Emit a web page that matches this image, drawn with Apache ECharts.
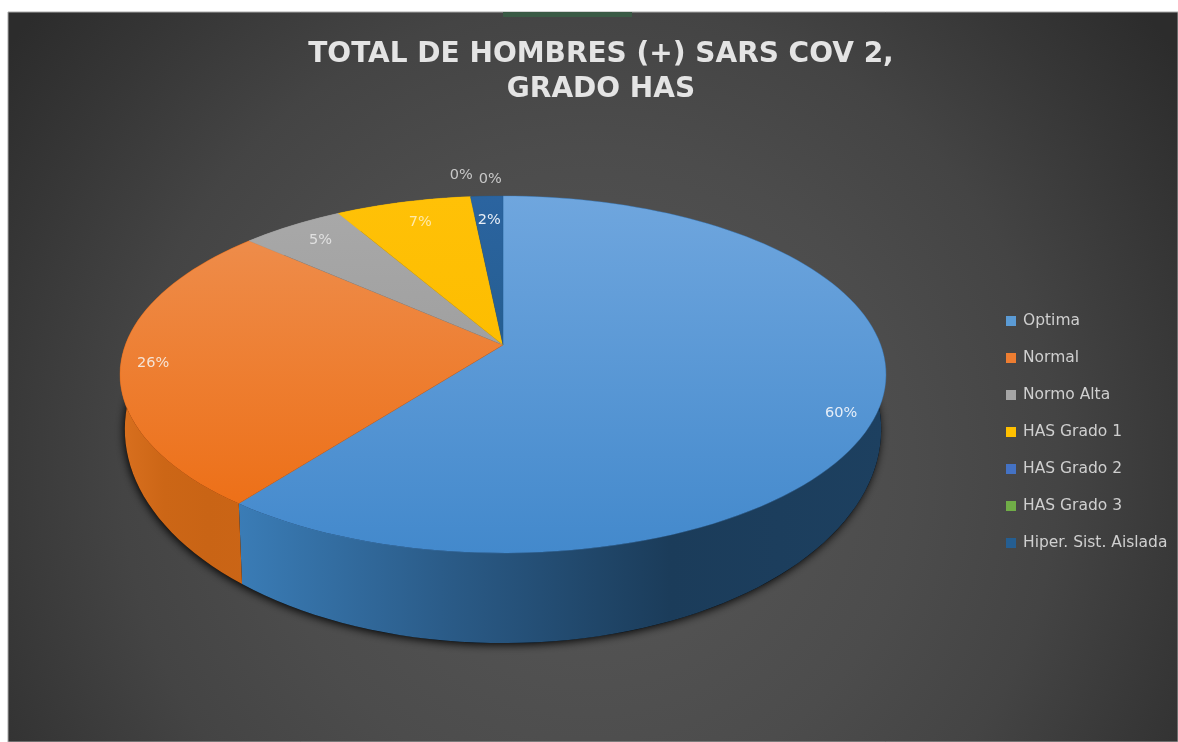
<!DOCTYPE html>
<html>
<head>
<meta charset="utf-8">
<title>Total de hombres, grado HAS</title>
<script src="https://cdn.jsdelivr.net/npm/echarts@6/dist/echarts.min.js"></script>
<style>
  html, body { margin: 0; padding: 0; background: #fff; }
  #main { width: 1178px; height: 742px; }
</style>
</head>
<body>
<div id="main"></div>
<script>
var categories = ["Optima", "Normal", "Normo Alta", "HAS Grado 1", "HAS Grado 2", "HAS Grado 3", "Hiper. Sist. Aislada"];
var percents = [60.4, 26.2, 5.1, 6.7, 0, 0, 1.6];
var titleText = "TOTAL DE HOMBRES (+) SARS COV 2,\nGRADO HAS";

var legendColors = ["#5b9bd5", "#ed7d31", "#a5a5a5", "#ffc000", "#4472c4", "#70ad47", "#255e91"];
var topColors = [
  ["#6fa6de", "#4389cc"],
  ["#ee8c4a", "#ed7018"],
  ["#a8a8a8", "#a0a0a0"],
  ["#ffc107", "#fdbd00"],
  ["#4472c4", "#4472c4"],
  ["#70ad47", "#70ad47"],
  ["#2b64a0", "#255e91"]
];
var wallColors = [
  ["#3a7cb6", "#2a5a86", "#1b3c5a", "#1d4060"],
  ["#d9701f", "#cc6616", "#c96415", "#cb6516"]
];
var labelColors = ["#e6eef8", "#f5e3d5", "#e0e0e0", "#ffe9a8", "#c8c8c8", "#c8c8c8", "#e8eef6"];

// label place: radius along the slice's mid angle, then a small pixel nudge
var labelPlaces = [
  [0.9, 0, 16],
  [0.92, 1, 3],
  [0.85, 0, -1],
  [0.85, 4, 1],
  [1.15, -5, -3],
  [1.15, 24, 1],
  [0.82, 0, 0]
];

// tilted disc: a circle seen in perspective, lower rim is the same disc further down
var tilt = 0.165;
var upper = { cx: 503, cy: 345, a: 377.7, b: 173.6 };
var lower = { cx: 503, cy: 394, a: 373, b: 208 };

function project(plane, deg, r) {
  var rad = deg * Math.PI / 180;
  var u = Math.sin(rad) * r;
  var v = -Math.cos(rad) * r;
  var w = 1 - tilt * v;
  return [plane.cx + plane.a * u / w, plane.cy + plane.b * v / w];
}

function arc(plane, from, to) {
  var pts = [];
  var steps = Math.max(2, Math.ceil((to - from) / 2));
  for (var i = 0; i <= steps; i++) {
    pts.push(project(plane, from + (to - from) * i / steps, 1));
  }
  return pts;
}

var total = percents.reduce(function (s, p) { return s + p; }, 0);

function startAngle(idx) {
  var sum = 0;
  for (var i = 0; i < idx; i++) sum += percents[i];
  return sum / total * 360;
}

function hGradient(colors) {
  var stops = colors.map(function (c, i) {
    return { offset: i / (colors.length - 1), color: c };
  });
  return new echarts.graphic.LinearGradient(0, 0, 1, 0, stops);
}

function renderSlice(params, api) {
  var idx = params.seriesIndex;
  var value = api.value(0);
  var from = startAngle(idx);
  var to = from + value / total * 360;
  var children = [];

  if (idx === 0) {
    children.push({
      type: "polygon",
      z2: 0,
      shape: { points: arc(lower, 0, 360) },
      style: { fill: "#000", shadowBlur: 9, shadowColor: "rgba(0,0,0,0.9)", shadowOffsetX: -1, shadowOffsetY: 2 }
    });
  }

  if (value > 0) {
    var topRim = arc(upper, from, to);
    var lowRim = arc(lower, from, to).reverse();
    var wall = wallColors[idx] || [legendColors[idx], legendColors[idx]];
    children.push({
      type: "polygon",
      z2: 1,
      shape: { points: topRim.concat(lowRim) },
      style: { fill: hGradient(wall) }
    });
    var apex = project(upper, 0, 0);
    var topFill = new echarts.graphic.LinearGradient(0, 0, 0, 1, [
      { offset: 0, color: topColors[idx][0] },
      { offset: 1, color: topColors[idx][1] }
    ]);
    children.push({
      type: "polygon",
      z2: 2,
      shape: { points: [apex].concat(topRim) },
      style: { fill: topFill, stroke: topColors[idx][1], lineWidth: 0.4 }
    });
  }

  var place = labelPlaces[idx];
  var at = project(upper, (from + to) / 2, place[0]);
  children.push({
    type: "text",
    z2: 3,
    style: {
      text: Math.round(value / total * 100) + "%",
      x: at[0] + place[1],
      y: at[1] + place[2],
      fill: labelColors[idx],
      font: "14.5px 'DejaVu Sans'",
      align: "center",
      verticalAlign: "middle"
    }
  });
  return { type: "group", children: children };
}

var seriesList = categories.map(function (name, i) {
  return {
    name: name,
    type: "custom",
    coordinateSystem: "none",
    silent: true,
    itemStyle: { color: legendColors[i] },
    renderItem: renderSlice,
    data: [[percents[i]]]
  };
});

var myChart = echarts.init(document.getElementById("main"));
myChart.setOption({
  animation: false,
  backgroundColor: "#fff",
  title: {
    text: titleText,
    left: 596,
    top: 32,
    textAlign: "center",
    textStyle: {
      color: "#e4e4e4",
      fontFamily: "DejaVu Sans",
      fontWeight: "bold",
      fontSize: 28,
      lineHeight: 35
    }
  },
  legend: {
    orient: "vertical",
    left: 1001,
    top: 306,
    icon: "rect",
    itemWidth: 10,
    itemHeight: 10,
    itemGap: 17,
    selectedMode: false,
    data: categories,
    textStyle: { color: "#cfcfcf", fontFamily: "DejaVu Sans", fontSize: 15.5, lineHeight: 20, padding: [0, 0, 0, 2] }
  },
  graphic: [
    {
      type: "rect",
      z: -10,
      shape: { x: 8, y: 12, width: 1170, height: 730 },
      style: {
        fill: new echarts.graphic.RadialGradient(590, 470, 720, [
          { offset: 0, color: "#585858" },
          { offset: 0.45, color: "#4c4c4c" },
          { offset: 0.65, color: "#444444" },
          { offset: 0.85, color: "#363636" },
          { offset: 1, color: "#2c2c2c" }
        ], true),
        stroke: "#a8a8a8",
        lineWidth: 1
      }
    },
    {
      type: "rect",
      z: -9,
      shape: { x: 503, y: 12, width: 129, height: 5 },
      style: { fill: "#3a5a45" }
    }
  ],
  series: seriesList
});
</script>
</body>
</html>
